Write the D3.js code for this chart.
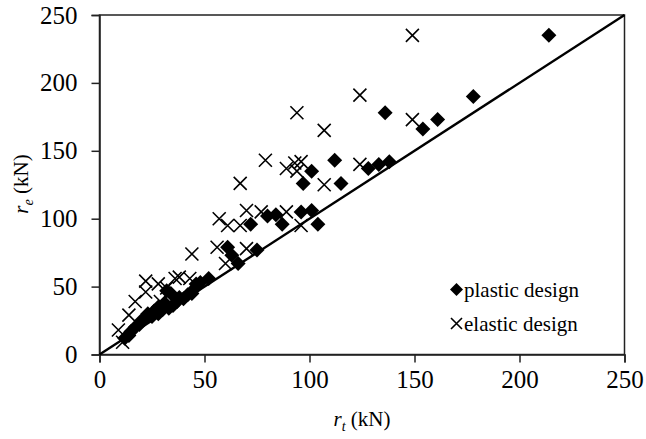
<!DOCTYPE html>
<html>
<head>
<meta charset="utf-8">
<script src="https://cdn.jsdelivr.net/npm/d3@7/dist/d3.min.js"></script>
<style>
  html, body { margin: 0; padding: 0; background: #fff; }
  svg { display: block; }
  text { font-family: "Liberation Serif", "Times New Roman", serif; fill: #000; }
</style>
</head>
<body>
<svg id="chart" width="646" height="439"></svg>
<script>
// ---- data ----
const xTicks = [0, 50, 100, 150, 200, 250];
const yTicks = [0, 50, 100, 150, 200, 250];
const seriesNames = ["plastic design", "elastic design"];

const plasticRt = [12, 14, 15, 17, 19, 20, 22, 23, 25, 26, 28, 28, 30, 31, 32, 33, 34, 35, 37, 38, 40, 42, 44, 45, 46, 48, 52, 61, 63, 66, 72, 75, 80, 84, 87, 96, 101, 97, 101, 104, 112, 115, 128, 133, 138, 136, 154, 161, 178, 214];
const plasticRe = [12, 14, 17, 20, 22, 25, 27, 30, 28, 32, 30, 35, 33, 38, 47, 34, 45, 36, 39, 42, 41, 44, 45, 48, 52, 53, 56, 79, 73, 67, 96, 77, 102, 103, 96, 105, 106, 126, 135, 96, 143, 126, 137, 140, 142, 178, 166, 173, 190, 235];

const elasticRt = [11, 9, 14, 17, 22, 22, 28, 29, 32, 36, 38, 43, 44, 56, 57, 60, 61, 67, 67, 70, 70, 77, 79, 89, 89, 93, 94, 94, 96, 96, 107, 107, 124, 124, 149, 149];
const elasticRe = [9, 18, 29, 39, 46, 54, 52, 39, 49, 56, 57, 56, 74, 79, 100, 67, 95, 95, 126, 106, 78, 105, 143, 137, 105, 141, 135, 178, 142, 95, 165, 125, 191, 140, 173, 235];

// ---- layout ----
const svg = d3.select("#chart");
const pLeft = 99.5, pRight = 624.5, pTop = 15, pBottom = 354.5;

const x = d3.scaleLinear().domain([0, 250]).range([pLeft, pRight]);
const y = d3.scaleLinear().domain([0, 250]).range([pBottom, pTop]);

// plot frame
svg.append("rect")
  .attr("x", pLeft).attr("y", pTop)
  .attr("width", pRight - pLeft).attr("height", pBottom - pTop)
  .attr("fill", "none").attr("stroke", "#222").attr("stroke-width", 1.5);

// axes
const xAxis = svg.append("g")
  .attr("transform", `translate(0,${pBottom})`)
  .call(d3.axisBottom(x).tickValues(xTicks).tickSize(8).tickPadding(8));
const yAxis = svg.append("g")
  .attr("transform", `translate(${pLeft},0)`)
  .call(d3.axisLeft(y).tickValues(yTicks).tickSize(8).tickPadding(14));

[xAxis, yAxis].forEach(g => {
  g.attr("font-family", null);
  g.select(".domain").attr("stroke", "#222").attr("stroke-width", 1.5);
  g.selectAll(".tick line").attr("stroke", "#222").attr("stroke-width", 1.5);
  g.selectAll(".tick text")
    .attr("font-size", 25).attr("fill", "#000");
});

// diagonal r_e = r_t
svg.append("line")
  .attr("x1", x(0)).attr("y1", y(0))
  .attr("x2", x(250)).attr("y2", y(250))
  .attr("stroke", "#000").attr("stroke-width", 2.4);

// elastic (x marks)
const plotG = svg.append("g");
const xs = 6.5;
const elastic = elasticRt.map((v, i) => [v, elasticRe[i]]);
plotG.selectAll("path.el").data(elastic).enter().append("path")
  .attr("class", "el")
  .attr("d", d => `M${x(d[0]) - xs},${y(d[1]) - xs}L${x(d[0]) + xs},${y(d[1]) + xs}M${x(d[0]) - xs},${y(d[1]) + xs}L${x(d[0]) + xs},${y(d[1]) - xs}`)
  .attr("stroke", "#000").attr("stroke-width", 1.6).attr("fill", "none");

// plastic (diamonds)
const ds = 7.5;
const plastic = plasticRt.map((v, i) => [v, plasticRe[i]]);
plotG.selectAll("path.pl").data(plastic).enter().append("path")
  .attr("class", "pl")
  .attr("d", d => `M${x(d[0])},${y(d[1]) - ds}L${x(d[0]) + ds},${y(d[1])}L${x(d[0])},${y(d[1]) + ds}L${x(d[0]) - ds},${y(d[1])}Z`)
  .attr("fill", "#000");

// legend
const lg = svg.append("g");
lg.append("path")
  .attr("d", `M456.5,283L463,289.5L456.5,296L450,289.5Z`).attr("fill", "#000");
lg.append("text").attr("x", 464).attr("y", 297).attr("font-size", 21).text(seriesNames[0]);
lg.append("path")
  .attr("d", `M451,318L462,329M451,329L462,318`).attr("stroke", "#000").attr("stroke-width", 1.6);
lg.append("text").attr("x", 464).attr("y", 331).attr("font-size", 21).text(seriesNames[1]);

// axis titles
const xt = svg.append("text").attr("x", 362).attr("y", 426).attr("text-anchor", "middle").attr("font-size", 21);
xt.append("tspan").attr("font-style", "italic").text("r");
xt.append("tspan").attr("font-style", "italic").attr("font-size", 14).attr("dy", 5).text("t");
xt.append("tspan").attr("dy", -5).text(" (kN)");

const yt = svg.append("text").attr("transform", "translate(28,184) rotate(-90)").attr("text-anchor", "middle").attr("font-size", 21);
yt.append("tspan").attr("font-style", "italic").text("r");
yt.append("tspan").attr("font-style", "italic").attr("font-size", 14).attr("dy", 5).text("e");
yt.append("tspan").attr("dy", -5).text(" (kN)");
</script>
</body>
</html>
